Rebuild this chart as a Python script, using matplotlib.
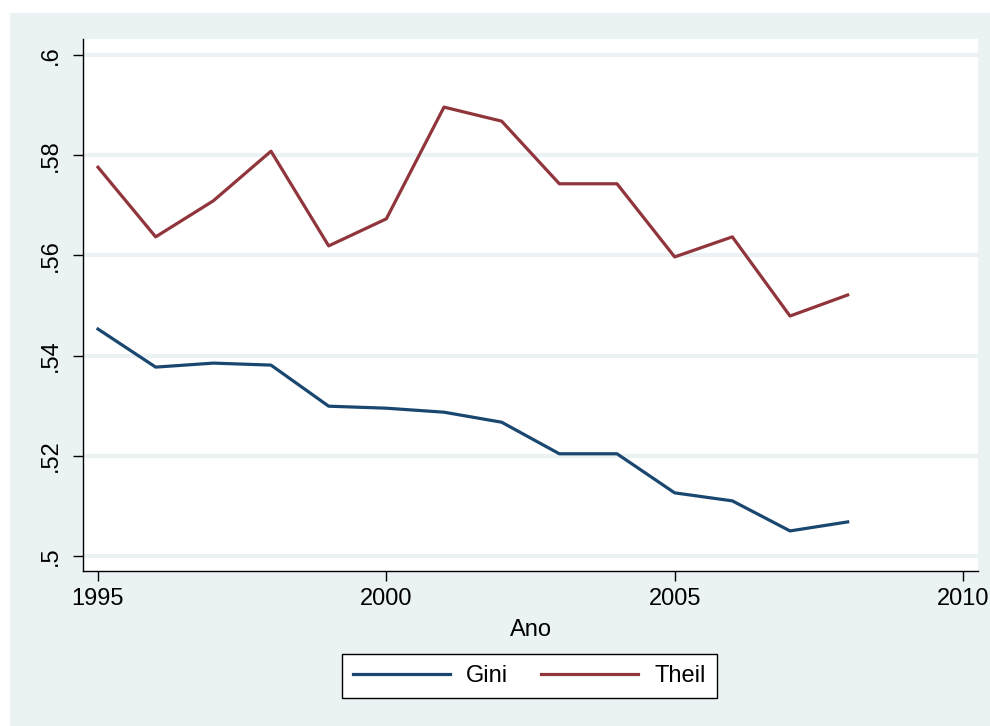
import matplotlib
matplotlib.use("Agg")
import matplotlib.pyplot as plt
from matplotlib.patches import Rectangle

years = [1995, 1996, 1997, 1998, 1999, 2000, 2001, 2002, 2003, 2004, 2005, 2006, 2007, 2008]
gini = [0.5453, 0.5377, 0.5385, 0.5381, 0.5299, 0.5295, 0.5287, 0.5267, 0.5204, 0.5204,
        0.5126, 0.5110, 0.5050, 0.5068]
theil = [0.5776, 0.5637, 0.5709, 0.5808, 0.5619, 0.5673, 0.5896, 0.5868, 0.5743, 0.5743,
         0.5597, 0.5637, 0.5479, 0.5521]
x_ticks = [1995, 2000, 2005, 2010]
y_ticks = [0.50, 0.52, 0.54, 0.56, 0.58, 0.60]
y_labels = [".5", ".52", ".54", ".56", ".58", ".6"]

plt.rcParams["font.family"] = ["Liberation Sans", "DejaVu Sans"]
bg = "#eaf2f3"
W, H = 990, 726

fig = plt.figure(figsize=(9.9, 7.26), dpi=100)
fig.patch.set_facecolor("white")
fig.add_artist(Rectangle((10 / W, 0), 1 - 10 / W, 1 - 13 / H, transform=fig.transFigure,
                         facecolor=bg, edgecolor="none", zorder=0))

ax = fig.add_axes([83 / W, 1 - 571 / H, (978 - 83) / W, (571 - 39) / H])
ax.set_facecolor("white")
ax.plot(years, gini, color="#1a476f", lw=2.3, label="Gini", solid_joinstyle="round")
ax.plot(years, theil, color="#90353b", lw=2.3, label="Theil", solid_joinstyle="round")

ax.set_xlim(1994.74, 2010.26)
ax.set_ylim(0.497, 0.6032)
ax.set_xticks(x_ticks)
ax.set_yticks(y_ticks)
ax.set_yticklabels(y_labels, rotation=90, va="center")
ax.tick_params(axis="both", labelsize=17, length=7, width=1, direction="out", color="black")
ax.tick_params(axis="y", pad=8)
ax.tick_params(axis="x", pad=5)
ax.grid(axis="y", color=bg, lw=3)
ax.set_axisbelow(True)
for side in ["top", "right"]:
    ax.spines[side].set_visible(False)
for side in ["left", "bottom"]:
    ax.spines[side].set_linewidth(1)
ax.set_xlabel("Ano", fontsize=17, labelpad=7)

leg = fig.legend(loc="center", bbox_to_anchor=((343 + 716) / 2 / W, 1 - 676 / H), ncol=2,
                 fontsize=17, handlelength=4.1, handletextpad=0.7, columnspacing=1.4,
                 frameon=True, fancybox=False, borderpad=0.45, framealpha=1)
leg.get_frame().set_edgecolor("black")
leg.get_frame().set_linewidth(1)
leg.get_frame().set_facecolor("white")

fig.savefig("out.png", dpi=100)
